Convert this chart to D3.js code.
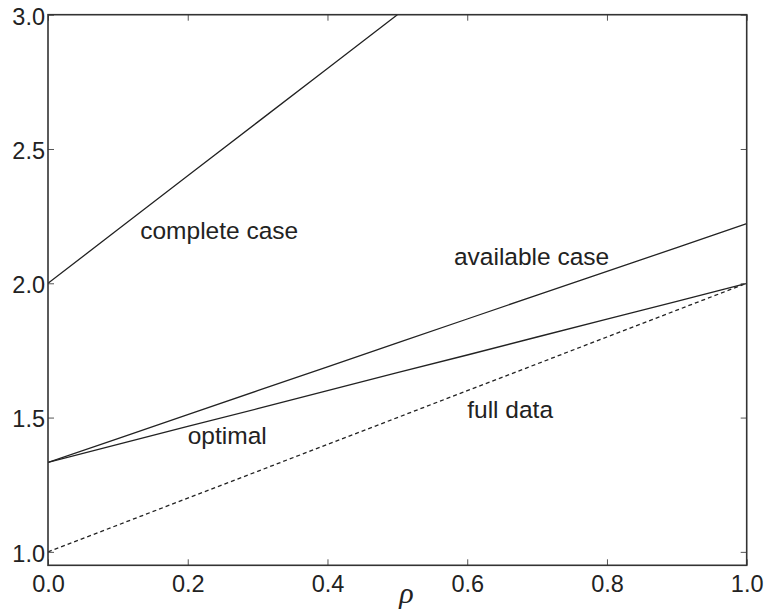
<!DOCTYPE html>
<html><head><meta charset="utf-8">
<script src="https://cdn.jsdelivr.net/npm/d3@7"></script>
<style>body{margin:0;background:#fff}svg{display:block}</style>
</head><body>
<svg id="c" width="766" height="614"></svg>
<script>
const rho = [0, 0.1, 0.2, 0.3, 0.4, 0.5, 0.6, 0.7, 0.8, 0.9, 1.0];
const completeCase = [2.0, 2.2, 2.4, 2.6, 2.8, 3.0];
const availableCase = [1.333, 1.422, 1.511, 1.600, 1.689, 1.778, 1.867, 1.956, 2.044, 2.133, 2.222];
const optimal = [1.333, 1.4, 1.467, 1.533, 1.6, 1.667, 1.733, 1.8, 1.867, 1.933, 2.0];
const fullData = [1.0, 1.1, 1.2, 1.3, 1.4, 1.5, 1.6, 1.7, 1.8, 1.9, 2.0];
const xTicks = [0, 0.2, 0.4, 0.6, 0.8, 1.0];
const yTicks = [1.0, 1.5, 2.0, 2.5, 3.0];
const labels = [
  {text: "complete case", x: 0.132, y: 2.165},
  {text: "available case", x: 0.581, y: 2.069},
  {text: "optimal", x: 0.2, y: 1.4},
  {text: "full data", x: 0.6, y: 1.5},
];

const svg = d3.select("#c");
const L = 48, R = 746.7, T = 14.7, B = 565.3;
const x = d3.scaleLinear().domain([0, 1]).range([L, R]);
const y = d3.scaleLinear().domain([0.95, 3.0]).range([B, T]);
const ink = "#222";

svg.append("clipPath").attr("id", "clip").append("rect")
  .attr("x", L).attr("y", T).attr("width", R - L).attr("height", B - T);

const line = d3.line().x(d => x(d[0])).y(d => y(d[1]));
const g = svg.append("g").attr("clip-path", "url(#clip)");
const series = [
  {v: completeCase, dash: null},
  {v: availableCase, dash: null},
  {v: optimal, dash: null},
  {v: fullData, dash: "4,3"},
];
series.forEach(s => {
  g.append("path").datum(s.v.map((v, i) => [rho[i], v]))
    .attr("d", line).attr("fill", "none").attr("stroke", ink)
    .attr("stroke-width", 1.3).attr("stroke-dasharray", s.dash);
});

const tl = 6;
const fmt = d3.format(".1f");
const xb = svg.append("g").attr("transform", `translate(0,${B})`)
  .call(d3.axisBottom(x).tickValues(xTicks).tickFormat(fmt).tickSizeInner(-tl).tickSizeOuter(0).tickPadding(9));
const xt = svg.append("g").attr("transform", `translate(0,${T})`)
  .call(d3.axisTop(x).tickValues(xTicks).tickFormat("").tickSizeInner(-tl).tickSizeOuter(0));
const yl = svg.append("g").attr("transform", `translate(${L},0)`)
  .call(d3.axisLeft(y).tickValues(yTicks).tickFormat(fmt).tickSizeInner(-tl).tickSizeOuter(0).tickPadding(3));
const yr = svg.append("g").attr("transform", `translate(${R},0)`)
  .call(d3.axisRight(y).tickValues(yTicks).tickFormat("").tickSizeInner(-tl).tickSizeOuter(0));
[xb, xt, yl, yr].forEach(a => {
  a.select(".domain").remove();
  a.selectAll("line").attr("stroke", "#555").attr("stroke-width", 1);
  a.selectAll("text").attr("fill", ink).style("font-family", "Liberation Sans, Arial, sans-serif").style("font-size", "23.5px");
});
yl.selectAll("text").attr("dy", "0.4em");
xb.selectAll("text").attr("dy", "0.75em");

svg.append("rect").attr("x", L).attr("y", T).attr("width", R - L).attr("height", B - T)
  .attr("fill", "none").attr("stroke", "#333").attr("stroke-width", 1.6);

svg.selectAll(".lbl").data(labels).enter().append("text")
  .attr("x", d => x(d.x)).attr("y", d => y(d.y))
  .attr("fill", ink).style("font-family", "Liberation Sans, Arial, sans-serif").style("font-size", "24.5px")
  .text(d => d.text);

svg.append("text").attr("x", (L + R) / 2 + 9).attr("y", 603)
  .attr("text-anchor", "middle").attr("fill", ink)
  .style("font-family", "Liberation Serif, Times New Roman, serif").style("font-style", "italic").style("font-size", "30px")
  .text("ρ");
</script>
</body></html>
